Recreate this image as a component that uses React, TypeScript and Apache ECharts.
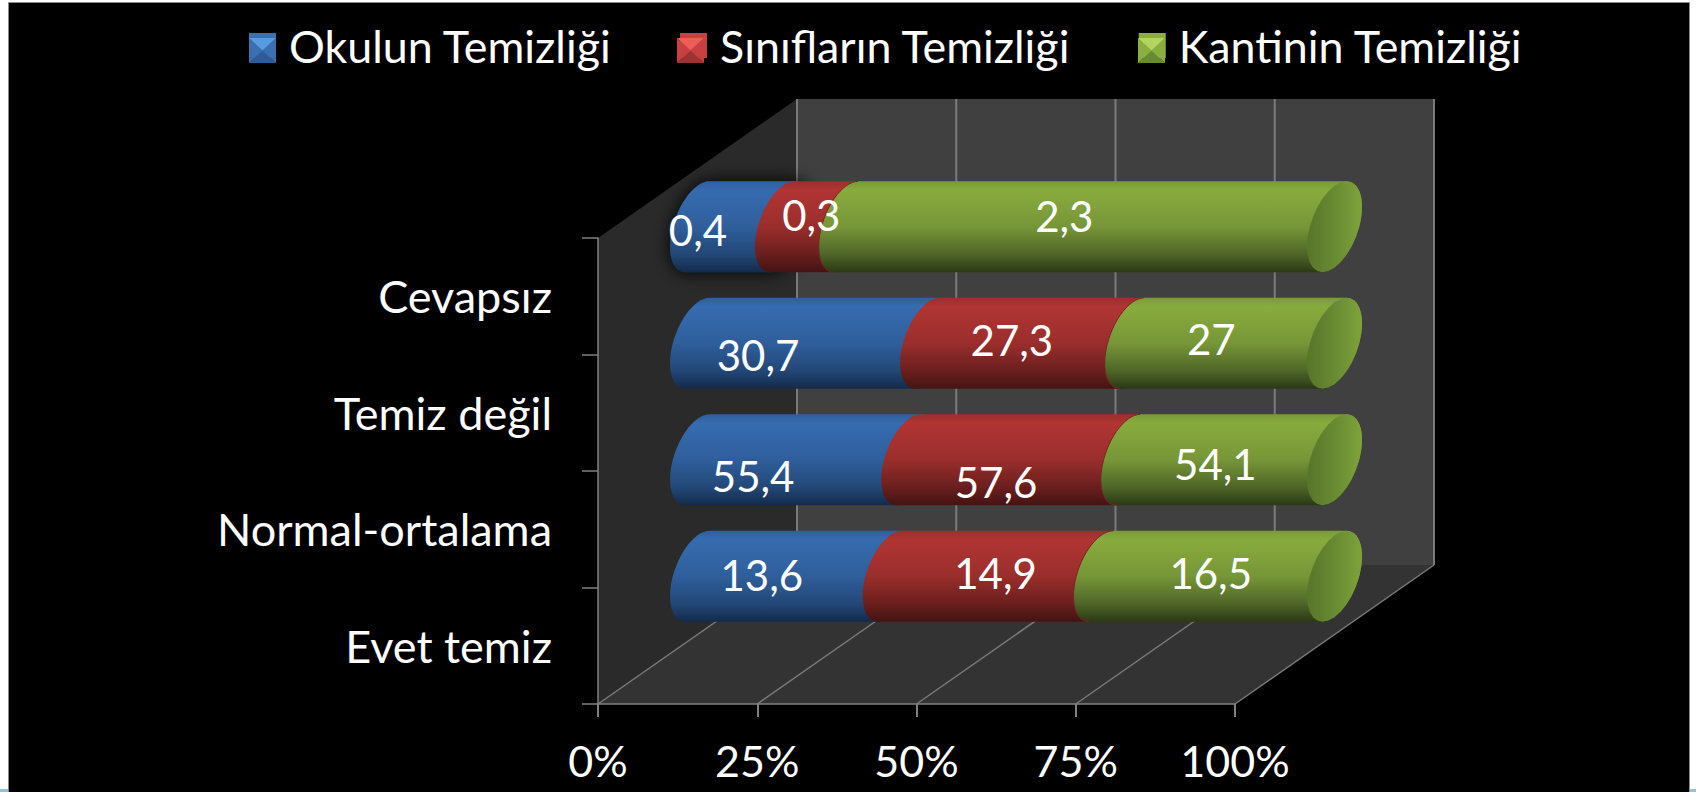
import React, { useEffect, useRef } from "react";
import * as echarts from "echarts";

const categories = ["Evet temiz", "Normal-ortalama", "Temiz değil", "Cevapsız"];
const seriesNames = ["Okulun Temizliği", "Sınıfların Temizliği", "Kantinin Temizliği"];
const okulun = [13.6, 55.4, 30.7, 0.4];
const siniflar = [14.9, 57.6, 27.3, 0.3];
const kantin = [16.5, 54.1, 27, 2.3];
const xTicks = [0, 25, 50, 75, 100];

// Hand-placed label offsets in the reference (px from the segment's centre), per row
const nudgeBlue = [[-32, -1.5], [-50, 16], [-54.5, 11.5], [-42, 3]];
const nudgeRed = [[0, -3.5], [-22.5, 22], [-18, -3.5], [-3, -12]];
const nudgeGreen = [[-7, -3.5], [-16, 4], [-22, -4.5], [-26, -11]];

const FONT = "Lato";
const DX = 199;
const DY = -139;
const CAP_A = 24.7;
const CAP_S = 12;

const grad = (stops: [number, string][], horizontal = false) =>
  new echarts.graphic.LinearGradient(0, 0, horizontal ? 1 : 0, horizontal ? 0 : 1,
    stops.map(([offset, color]) => ({ offset, color })));

const bodyStops: [number, string][][] = [
  [[0, "#2e5f9e"], [0.1, "#366cb0"], [0.5, "#2f5e9b"], [0.8, "#234877"], [1, "#142a4b"]],
  [[0, "#9c2f2d"], [0.1, "#b03533"], [0.5, "#9a2e2c"], [0.8, "#6a1f1e"], [1, "#441413"]],
  [[0, "#7a9a3a"], [0.1, "#88ab3d"], [0.5, "#779638"], [0.8, "#4f6628"], [1, "#2b3915"]],
];

const rows = categories.map((_, i) => {
  const total = okulun[i] + siniflar[i] + kantin[i];
  const a = (okulun[i] / total) * 100;
  const b = ((okulun[i] + siniflar[i]) / total) * 100;
  return [[0, a, okulun[i]], [a, b, siniflar[i]], [b, 100, kantin[i]]];
});

const arc = (cx: number, cy: number, r: number, from: number, to: number) => {
  const pts: number[][] = [];
  const n = 28;
  for (let k = 0; k <= n; k++) {
    const t = ((from + ((to - from) * k) / n) * Math.PI) / 180;
    pts.push([cx + CAP_A * Math.cos(t) - CAP_S * Math.sin(t), cy + r * Math.sin(t)]);
  }
  return pts;
};

const makeSegments = (idx: number, nudges: number[][]) => ({
  type: "custom",
  name: seriesNames[idx],
  z: 3,
  encode: { x: [0, 1], y: 2 },
  data: rows.map((r, i) => [r[idx][0], r[idx][1], i, r[idx][2], nudges[i][0], nudges[i][1]]),
  renderItem: (_: any, api: any) => {
    const row = api.value(2);
    const p0 = api.coord([api.value(0), row]);
    const p1 = api.coord([api.value(1), row]);
    const band = api.size([0, 1])[1];
    const r = band * 0.39;
    const cy = p0[1] + DY / 2;
    const x0 = p0[0] + DX / 2;
    const x1 = p1[0] + DX / 2;
    const left = arc(x0, cy, r, 270, 90);
    const children: any[] = [
      {
        type: "polygon",
        shape: { points: [...left, ...arc(x1, cy, r, 90, -90)] },
        style: {
          fill: grad(bodyStops[idx]),
          ...(idx === 0 && row === 3 ? { shadowBlur: 18, shadowColor: "#000" } : {}),
        },
      },
    ];
    if (idx === 2) {
      children.push({
        type: "polyline",
        shape: { points: left },
        style: { stroke: "#7a2420", lineWidth: 1, fill: "none" },
      });
      children.push({
        type: "polygon",
        shape: { points: arc(x1, cy, r, 0, 360) },
        style: { fill: grad([[0, "#587529"], [0.5, "#688a33"], [1, "#7fa33a"]], true) },
      });
    }
    children.push({
      type: "text",
      z2: 100,
      style: {
        text: String(api.value(3)).replace(".", ","),
        x: (x0 + x1) / 2 + api.value(4),
        y: cy + api.value(5),
        align: "center",
        verticalAlign: "middle",
        fill: "#fff",
        font: `42px ${FONT}`,
      },
    });
    return { type: "group", children };
  },
});

const chamberSeries = {
  type: "custom",
  silent: true,
  z: -1,
  encode: { x: 0, y: 1 },
  data: [[0, 0]],
  renderItem: (params: any, api: any) => {
    const { x, y, width: w, height: h } = params.coordSys;
    const b = y + h;
    const line = (x1: number, y1: number, x2: number, y2: number, lineWidth: number) => ({
      type: "line",
      shape: { x1, y1, x2, y2 },
      style: { stroke: "#7a7a7a", lineWidth },
    });
    const kids: any[] = [
      { type: "polygon", shape: { points: [[x + DX, y + DY], [x + w + DX, y + DY], [x + w + DX, b + DY], [x + DX, b + DY]] }, style: { fill: "#404040" } },
      { type: "polygon", shape: { points: [[x, y], [x + DX, y + DY], [x + DX, b + DY], [x, b]] }, style: { fill: "#2a2a2a" } },
      { type: "polygon", shape: { points: [[x, b], [x + DX, b + DY], [x + w + DX, b + DY], [x + w, b]] }, style: { fill: "#333333" } },
    ];
    xTicks.forEach((v) => {
      const px = api.coord([v, 0])[0];
      kids.push(line(px, b, px + DX, b + DY, 1.5));
      kids.push(line(px + DX, b + DY, px + DX, y + DY, 2));
    });
    return { type: "group", children: kids };
  },
};

const bevel = (x: number, y: number, w: number, h: number, top: string, side: string, bottom: string) => {
  const cx = x + w / 2;
  const cy = y + h / 2;
  const tri = (pts: number[][], fill: string) => ({ type: "polygon", z: 50, silent: true, shape: { points: pts }, style: { fill } });
  return [
    tri([[x, y], [x + w, y], [cx, cy]], top),
    tri([[x, y + h], [x + w, y + h], [cx, cy]], bottom),
    tri([[x, y], [x, y + h], [cx, cy]], side),
    tri([[x + w, y], [x + w, y + h], [cx, cy]], side),
  ];
};

export default function App() {
  const ref = useRef<HTMLDivElement>(null);
  useEffect(() => {
    const chart = echarts.init(ref.current!, undefined, { renderer: "svg" });
    chart.setOption({
      animation: false,
      backgroundColor: "#ffffff",
      textStyle: { fontFamily: FONT },
      legend: {
        left: 244,
        top: 18,
        itemWidth: 27,
        itemHeight: 25,
        itemGap: 68,
        selectedMode: false,
        textStyle: { color: "#fff", fontSize: 44.8, fontFamily: FONT, padding: [0, 0, 6, 8] },
        data: seriesNames.map((name, i) => ({
          name,
          icon: "rect",
          itemStyle: { color: ["#3a70b0", "#c84040", "#8aae40"][i] },
        })),
      },
      grid: { left: 598, top: 238, width: 637, height: 466, containLabel: false },
      xAxis: {
        type: "value",
        min: 0,
        max: 100,
        interval: 25,
        splitLine: { show: false },
        axisLine: { show: true, lineStyle: { color: "#808080", width: 1.5 } },
        axisTick: { show: true, length: 13, lineStyle: { color: "#808080", width: 2 } },
        axisLabel: { color: "#fff", fontSize: 43, fontFamily: FONT, margin: 35, formatter: "{value}%" },
      },
      yAxis: {
        type: "category",
        data: categories,
        axisLine: { show: true, lineStyle: { color: "#808080", width: 1.5 } },
        axisTick: { show: true, length: 16, lineStyle: { color: "#808080", width: 1.5 } },
        axisLabel: { color: "#fff", fontSize: 45, fontFamily: FONT, margin: 46, padding: [9, 0, 0, 0] },
      },
      graphic: [
        { type: "rect", z: -10, silent: true, shape: { x: 8.5, y: 2.5, width: 1681, height: 800 }, style: { fill: "#000", stroke: "#8a8a8a", lineWidth: 1 } },
        { type: "rect", z: -9, silent: true, shape: { x: 0, y: 789, width: 8, height: 3 }, style: { fill: "#8fc4dc" } },
        { type: "rect", z: -9, silent: true, shape: { x: 1690, y: 789, width: 6, height: 3 }, style: { fill: "#8fc4dc" } },
        ...bevel(249, 38, 27, 25, "#5a9ae0", "#3a70b0", "#2e5c98"),
        ...bevel(677, 38, 27, 25, "#ee5e58", "#c84040", "#9c3232"),
        ...bevel(1138, 38, 27, 25, "#b4d460", "#8aae40", "#6a8a30"),
      ],
      series: [chamberSeries, makeSegments(0, nudgeBlue), makeSegments(1, nudgeRed), makeSegments(2, nudgeGreen)],
    });
    return () => chart.dispose();
  }, []);
  return <div ref={ref} style={{ position: "absolute", left: 0, top: 0, width: 1696, height: 792 }} />;
}
